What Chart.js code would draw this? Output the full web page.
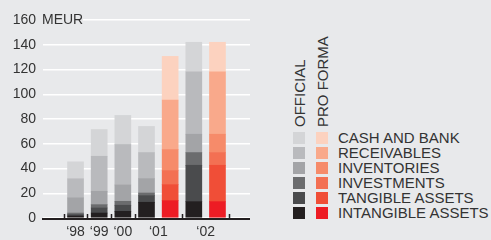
<!DOCTYPE html>
<html>
<head>
<meta charset="utf-8">
<script src="https://cdn.jsdelivr.net/npm/chart.js@4.4.1/dist/chart.umd.min.js"></script>
<style>
  body { margin: 0; background: #e8e9eb; font-family: "Liberation Sans", Arial, sans-serif; color: #333; }
  #wrap { position: relative; width: 491px; height: 240px; overflow: hidden; }
  #chart { position: absolute; left: 0; top: 0; }
  .vert { position: absolute; font-size: 15px; line-height: 15px; white-space: nowrap;
          transform-origin: left top; transform: rotate(-90deg); }
  .row { position: absolute; left: 293px; height: 15px; }
  .row .sw { position: absolute; top: 0; width: 12px; height: 12px; }
  .row .txt { position: absolute; left: 45px; top: -2px; font-size: 15px; line-height: 15px; white-space: nowrap; }
</style>
</head>
<body>
<div id="wrap">
  <canvas id="chart" width="256" height="240"></canvas>
  <div id="legend"></div>
</div>
<script>
const years = ['‘98', '‘99', '‘00', '‘01', '‘02'];
const proFormaYears = ['‘01', '‘02'];
const yTicks = [0, 20, 40, 60, 80, 100, 120, 140, 160];
const unit = 'MEUR';

// official, one value per year
const offIntangible = [1.6, 4.0, 5.4, 12.7, 13.2];
const offTangible = [1.1, 4.1, 4.9, 5.4, 29.4];
const offInvestments = [1.3, 2.7, 3.2, 2.1, 10.3];
const offInventories = [12.3, 10.8, 13.2, 11.6, 14.8];
const offReceivables = [15.4, 28.3, 32.7, 21.1, 50.5];
const offCash = [13.7, 21.6, 23.5, 21.1, 23.8];

// pro forma, one value per pro forma year
const pfIntangible = [14.0, 13.2];
const pfTangible = [13.0, 29.4];
const pfInvestments = [11.3, 10.3];
const pfInventories = [17.0, 14.8];
const pfReceivables = [40.0, 50.5];
const pfCash = [35.3, 23.8];

const seriesNames = ['INTANGIBLE ASSETS', 'TANGIBLE ASSETS', 'INVESTMENTS', 'INVENTORIES', 'RECEIVABLES', 'CASH AND BANK'];
const offColors = ['#231f20', '#4a4b4d', '#6b6c6e', '#a3a4a7', '#b9babd', '#d4d5d7'];
const pfColors = ['#ed1c24', '#f04e37', '#f37053', '#f68b6a', '#f9a98b', '#fcd2bf'];

// slot layout: each year gets an official bar, plus a pro forma bar next to it
const offSlot = [], pfSlot = [], groupCenter = [], groupEdges = [];
let s = 0;
years.forEach(y => {
    groupEdges.push(s - 0.5);
    offSlot.push(s++);
    if (proFormaYears.includes(y)) pfSlot.push(s++);
    groupCenter.push((groupEdges[groupEdges.length - 1] + s - 0.5) / 2);
});
groupEdges.push(s - 0.5);

const offData = [offIntangible, offTangible, offInvestments, offInventories, offReceivables, offCash];
const pfData = [pfIntangible, pfTangible, pfInvestments, pfInventories, pfReceivables, pfCash];

const datasets = [];
offData.forEach((vals, i) => datasets.push({
    label: seriesNames[i] + ' official',
    data: vals.map((v, j) => ({ x: offSlot[j], y: v })),
    backgroundColor: offColors[i]
}));
pfData.forEach((vals, i) => datasets.push({
    label: seriesNames[i] + ' pro forma',
    data: vals.map((v, j) => ({ x: pfSlot[j], y: v })),
    backgroundColor: pfColors[i]
}));

const bg = '#e8e9eb';
const axisPlugin = {
    id: 'axisBits',
    afterDraw(chart) {
        const ctx = chart.ctx, x = chart.scales.x, y = chart.scales.y, area = chart.chartArea;
        const y0 = y.getPixelForValue(0);
        ctx.save();
        ctx.strokeStyle = '#231f20';
        ctx.lineWidth = 2;
        ctx.beginPath();
        ctx.moveTo(area.left - 1, y0 + 1);
        ctx.lineTo(area.right, y0 + 1);
        ctx.stroke();
        ctx.lineWidth = 1.5;
        ctx.beginPath();
        groupEdges.forEach(e => {
            const px = Math.round(x.getPixelForValue(e)) + 0.5;
            ctx.moveTo(px, y0 + 1);
            ctx.lineTo(px, y0 - 4);
        });
        ctx.stroke();
        // unit label next to the top tick
        const yTop = y.getPixelForValue(yTicks[yTicks.length - 1]);
        ctx.fillStyle = bg;
        ctx.fillRect(area.left - 2, yTop - 3, 42, 6);
        ctx.fillStyle = '#333';
        ctx.font = '14px "Liberation Sans", Arial, sans-serif';
        ctx.textBaseline = 'middle';
        ctx.fillText(unit, area.left - 1, yTop);
        ctx.restore();
    }
};

new Chart(document.getElementById('chart'), {
    type: 'bar',
    data: { datasets: datasets },
    options: {
        responsive: false,
        animation: false,
        layout: { padding: { top: 20, right: 6, left: 0, bottom: 0 } },
        datasets: { bar: { barThickness: 16, borderWidth: 0 } },
        plugins: { legend: { display: false }, tooltip: { enabled: false } },
        scales: {
            x: {
                type: 'linear',
                stacked: true,
                min: -0.5,
                max: s - 0.5,
                grid: { display: false, drawTicks: false },
                border: { display: false },
                afterBuildTicks: scale => { scale.ticks = groupCenter.map(v => ({ value: v })); },
                afterFit: scale => { scale.height = 22; },
                ticks: {
                    padding: 6,
                    color: '#333',
                    font: { size: 14, family: '"Liberation Sans", Arial, sans-serif' },
                    callback: (v, i) => years[i]
                }
            },
            y: {
                stacked: true,
                min: yTicks[0],
                max: yTicks[yTicks.length - 1],
                grid: { color: '#ffffff', lineWidth: 1.5, drawTicks: false },
                border: { display: false },
                afterBuildTicks: scale => { scale.ticks = yTicks.map(v => ({ value: v })); },
                afterFit: scale => { scale.width = 43; },
                ticks: {
                    padding: 7,
                    color: '#333',
                    font: { size: 14, family: '"Liberation Sans", Arial, sans-serif' }
                }
            }
        }
    },
    plugins: [axisPlugin]
});

// legend
const legend = document.getElementById('legend');
const v1 = document.createElement('div');
v1.className = 'vert'; v1.textContent = 'OFFICIAL';
v1.style.left = '292px'; v1.style.top = '127px';
legend.appendChild(v1);
const v2 = document.createElement('div');
v2.className = 'vert'; v2.textContent = 'PRO FORMA';
v2.style.left = '315px'; v2.style.top = '127px';
legend.appendChild(v2);
for (let i = seriesNames.length - 1, r = 0; i >= 0; i--, r++) {
    const row = document.createElement('div');
    row.className = 'row';
    row.style.top = (132 + r * 15) + 'px';
    row.innerHTML = '<div class="sw" style="left:0;background:' + offColors[i] + '"></div>' +
        '<div class="sw" style="left:23px;background:' + pfColors[i] + '"></div>' +
        '<div class="txt">' + seriesNames[i] + '</div>';
    legend.appendChild(row);
}
</script>
</body>
</html>
